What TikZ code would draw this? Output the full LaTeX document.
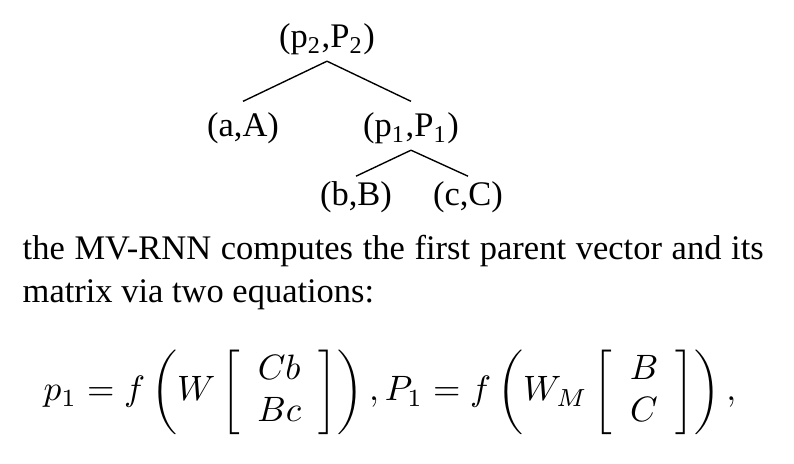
\documentclass[tikz,border=0pt]{standalone}
\usepackage[no-math]{fontspec}
\setmainfont{Liberation Serif}
\usepackage{amsmath}
\usepackage{tikz}

\begin{document}
\begin{tikzpicture}[x=0.29pt,y=-0.29pt]
    \fontsize{10}{12}\selectfont
    \tikzset{pair/.style={anchor=base,inner sep=1.5pt},
             textline/.style={anchor=base west,inner sep=0pt}}
    \useasboundingbox (0,0) rectangle (794,464);

    % the tree
    \node[pair] (p2) at (327,48) {(p\textsubscript{2},P\textsubscript{2})};
    \node[pair] (aA) at (243,137) {(a,A)};
    \node[pair] (p1) at (411,137) {(p\textsubscript{1},P\textsubscript{1})};
    \node[pair] (bB) at (356,206) {(b,B)};
    \node[pair] (cC) at (468,206) {(c,C)};
    \draw (p2.south) -- ([yshift=1.7pt]aA.north);
    \draw (p2.south) -- ([yshift=1.7pt]p1.north);
    \draw (p1.south) -- (bB.north);
    \draw (p1.south) -- (cC.north);

    % the text
    \node[textline] (line1) at (22,260) {\makebox[214.9pt][s]{the MV-RNN computes the first parent vector and its}};
    \node[textline] (line2) at (22,303) {matrix via two equations:};
    \node[textline] (eq) at (43,401) {\scalebox{1.022}{$\displaystyle p_1 = f\left(W\left[\begin{array}{c} Cb\\ Bc \end{array}\right]\right),P_1 = f\left(W_M\left[\begin{array}{c} B\\ C \end{array}\right]\right),$}};
\end{tikzpicture}
\end{document}
